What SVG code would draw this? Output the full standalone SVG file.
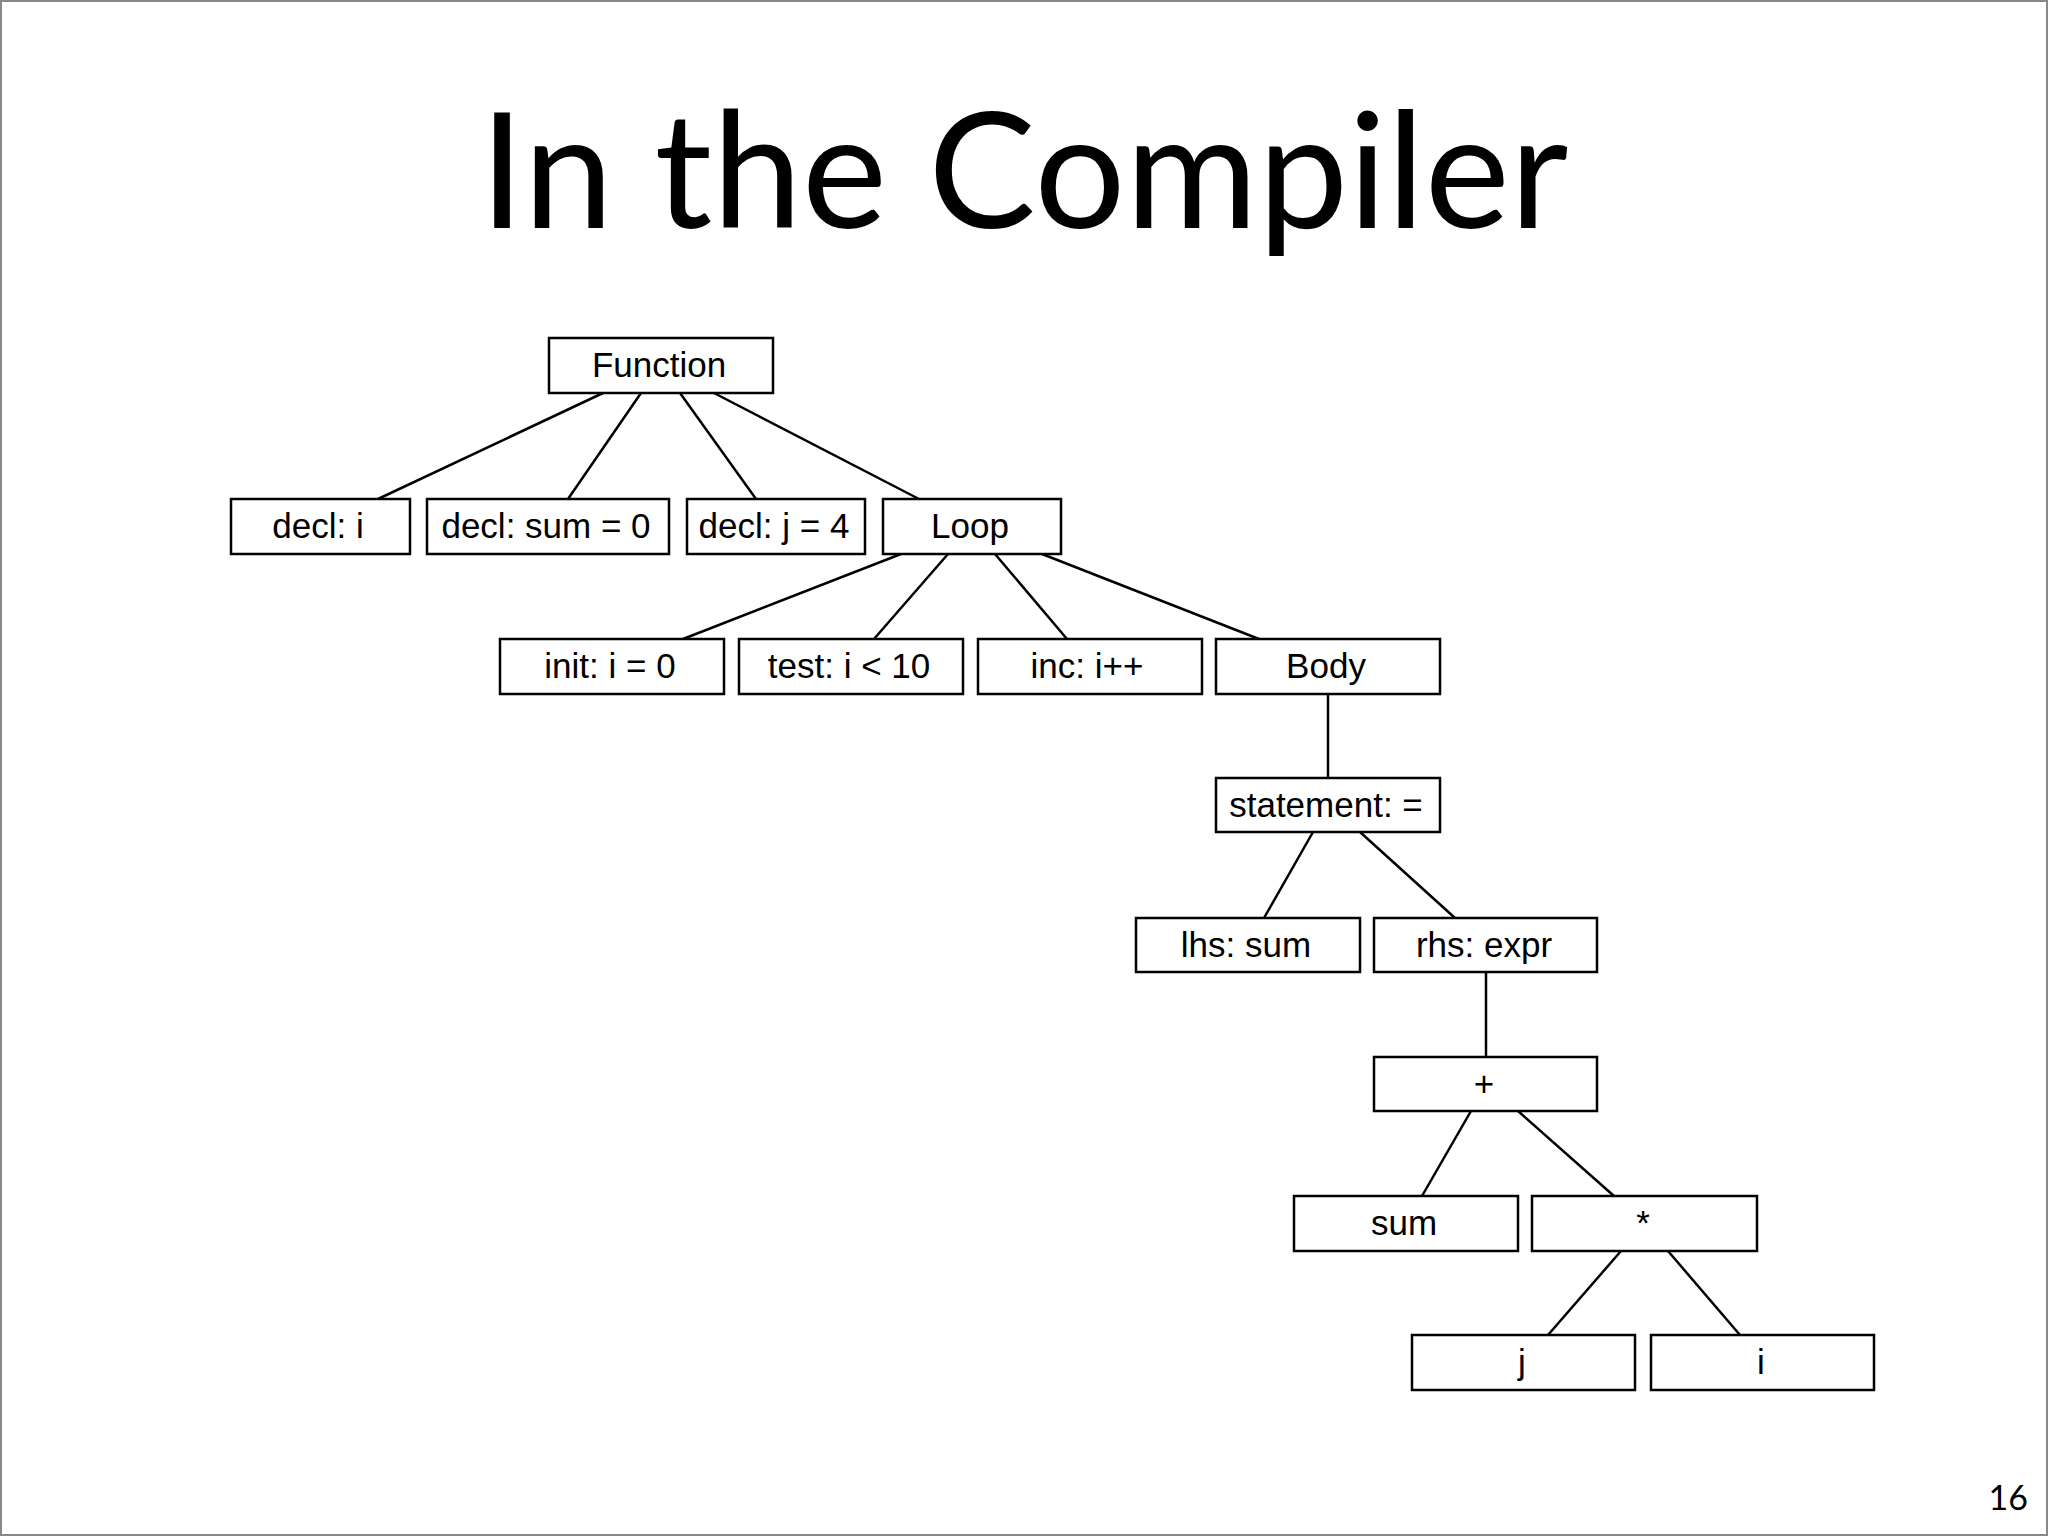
<svg xmlns="http://www.w3.org/2000/svg" width="2048" height="1536" viewBox="0 0 2048 1536">
<style>
.b{fill:#fff;stroke:#000;stroke-width:2.5}
.t{font-family:"Liberation Sans",Arial,sans-serif;font-size:35px;text-anchor:middle;fill:#000}
#edges line{stroke:#000;stroke-width:2.5}
</style>
<rect x="1" y="1" width="2046" height="1534" fill="#fff" stroke="#888" stroke-width="2"/>
<text x="1024" y="228" font-family="Lato,'Open Sans',sans-serif" font-size="161" text-anchor="middle">In the Compiler</text>
<text x="2028" y="1510" font-family="Lato,sans-serif" font-size="34" text-anchor="end">16</text>
<g id="edges">
<line x1="603" y1="393" x2="378" y2="499"/>
<line x1="641" y1="393" x2="568" y2="499"/>
<line x1="680" y1="393" x2="756" y2="499"/>
<line x1="714" y1="393" x2="919" y2="499"/>
<line x1="901" y1="554" x2="683" y2="639"/>
<line x1="948" y1="554" x2="874" y2="639"/>
<line x1="995" y1="554" x2="1067" y2="639"/>
<line x1="1042" y1="554" x2="1259" y2="639"/>
<line x1="1328" y1="694" x2="1328" y2="778"/>
<line x1="1313" y1="832" x2="1264" y2="918"/>
<line x1="1360" y1="832" x2="1455" y2="918"/>
<line x1="1486" y1="972" x2="1486" y2="1057"/>
<line x1="1471" y1="1111" x2="1422" y2="1196"/>
<line x1="1518" y1="1111" x2="1614" y2="1196"/>
<line x1="1621" y1="1251" x2="1548" y2="1335"/>
<line x1="1668" y1="1251" x2="1740" y2="1335"/>
</g>
<g id="n-function"><rect class="b" x="549" y="338" width="224" height="55"/><text class="t" x="659" y="377">Function</text></g>
<g id="n-decl-i"><rect class="b" x="231" y="499" width="179" height="55"/><text class="t" x="318" y="538">decl: i</text></g>
<g id="n-decl-sum"><rect class="b" x="427" y="499" width="242" height="55"/><text class="t" x="546" y="538">decl: sum = 0</text></g>
<g id="n-decl-j"><rect class="b" x="687" y="499" width="178" height="55"/><text class="t" x="774" y="538">decl: j = 4</text></g>
<g id="n-loop"><rect class="b" x="883" y="499" width="178" height="55"/><text class="t" x="970" y="538">Loop</text></g>
<g id="n-init"><rect class="b" x="500" y="639" width="224" height="55"/><text class="t" x="610" y="678">init: i = 0</text></g>
<g id="n-test"><rect class="b" x="739" y="639" width="224" height="55"/><text class="t" x="849" y="678">test: i &lt; 10</text></g>
<g id="n-inc"><rect class="b" x="978" y="639" width="224" height="55"/><text class="t" x="1087" y="678">inc: i++</text></g>
<g id="n-body"><rect class="b" x="1216" y="639" width="224" height="55"/><text class="t" x="1326" y="678">Body</text></g>
<g id="n-stmt"><rect class="b" x="1216" y="778" width="224" height="54"/><text class="t" x="1326" y="817">statement: =</text></g>
<g id="n-lhs"><rect class="b" x="1136" y="918" width="224" height="54"/><text class="t" x="1246" y="957">lhs: sum</text></g>
<g id="n-rhs"><rect class="b" x="1374" y="918" width="223" height="54"/><text class="t" x="1484" y="957">rhs: expr</text></g>
<g id="n-plus"><rect class="b" x="1374" y="1057" width="223" height="54"/><text class="t" x="1484" y="1096">+</text></g>
<g id="n-sum"><rect class="b" x="1294" y="1196" width="224" height="55"/><text class="t" x="1404" y="1235">sum</text></g>
<g id="n-mul"><rect class="b" x="1532" y="1196" width="225" height="55"/><text class="t" x="1643" y="1235">*</text></g>
<g id="n-j"><rect class="b" x="1412" y="1335" width="223" height="55"/><text class="t" x="1522" y="1374">j</text></g>
<g id="n-i"><rect class="b" x="1651" y="1335" width="223" height="55"/><text class="t" x="1761" y="1374">i</text></g>
</svg>
